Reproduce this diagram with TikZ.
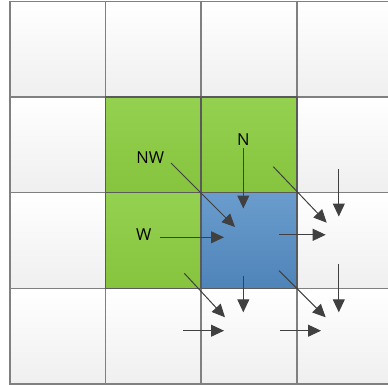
\documentclass[tikz,border=0pt]{standalone}
\usepackage{fontspec}
\setmainfont{Open Sans}
\usetikzlibrary{arrows.meta}
\definecolor{gridline}{HTML}{808080}
\definecolor{cellbot}{HTML}{EFEFEF}
\definecolor{greentop}{HTML}{94D150}
\definecolor{greenbot}{HTML}{86C43E}
\definecolor{bluetop}{HTML}{6A9DCD}
\definecolor{bluebot}{HTML}{4F84B9}
\definecolor{darkline}{HTML}{5A5A5A}
\definecolor{arrowcol}{HTML}{404040}
\begin{document}
\begin{tikzpicture}[x=1pt,y=-1pt,
  cell/.style={draw=gridline, line width=1.5pt, top color=white, bottom color=cellbot,
    minimum width=95.6pt, minimum height=95.6pt, inner sep=0pt, outer sep=0pt, anchor=north west},
  greencell/.style={cell, draw=darkline, top color=greentop, bottom color=greenbot},
  bluecell/.style={cell, draw=darkline, top color=bluetop, bottom color=bluebot},
  arr/.style={draw=arrowcol, line width=1pt, -{Triangle[length=13pt,width=12pt]}},
  lbl/.style={font=\fontsize{16.5}{19}\selectfont, text=black, inner sep=0pt}]
\useasboundingbox (0,0) rectangle (388,385);
\clip (0,0) rectangle (388,385);
\foreach \i in {0,...,3} {
  \foreach \j in {0,...,3} {
    \node[cell] (c\i\j) at ({10+95.6*\i},{1.5+95.6*\j}) {};
  }
}
\node[greencell] (g11) at (105.6,97.1) {};
\node[greencell] (g21) at (201.2,97.1) {};
\node[greencell] (g12) at (105.6,192.7) {};
\node[bluecell] (b22) at (201.2,192.7) {};
% labels
\node[lbl] (nw) at (150.3,158) {NW};
\node[lbl] (n) at (243.3,139.5) {N};
\node[lbl] (w) at (143.7,234.7) {W};
% arrows into blue cell
\coordinate (nws) at (171,163); \coordinate (nwe) at (235,227);
\coordinate (ns) at (243.3,148); \coordinate (ne) at (243.3,208.5);
\coordinate (ws) at (159.5,237.3); \coordinate (we) at (224,237.3);
\draw[arr] (nws) -- (nwe);
\draw[arr] (ns) -- (ne);
\draw[arr] (ws) -- (we);
% arrows into right neighbour cell
\coordinate (r1s) at (279.3,234.8); \coordinate (r1e) at (325.7,234.8);
\coordinate (r2s) at (273.3,166.7); \coordinate (r2e) at (326.7,222.7);
\coordinate (r3s) at (338.8,169); \coordinate (r3e) at (338.8,216.5);
\draw[arr] (r1s) -- (r1e);
\draw[arr] (r2s) -- (r2e);
\draw[arr] (r3s) -- (r3e);
% arrows into bottom-right cell
\coordinate (q1s) at (338.8,264.3); \coordinate (q1e) at (338.8,312.3);
\coordinate (q2s) at (279,270.7); \coordinate (q2e) at (325.7,317.3);
\coordinate (q3s) at (280,330.7); \coordinate (q3e) at (321,330.7);
\draw[arr] (q1s) -- (q1e);
\draw[arr] (q2s) -- (q2e);
\draw[arr] (q3s) -- (q3e);
% arrows into bottom cell
\coordinate (p1s) at (184.3,273.3); \coordinate (p1e) at (225,317.3);
\coordinate (p2s) at (243.3,276); \coordinate (p2e) at (243.3,312.3);
\coordinate (p3s) at (183.3,330.7); \coordinate (p3e) at (224,330.7);
\draw[arr] (p1s) -- (p1e);
\draw[arr] (p2s) -- (p2e);
\draw[arr] (p3s) -- (p3e);
\end{tikzpicture}
\end{document}
